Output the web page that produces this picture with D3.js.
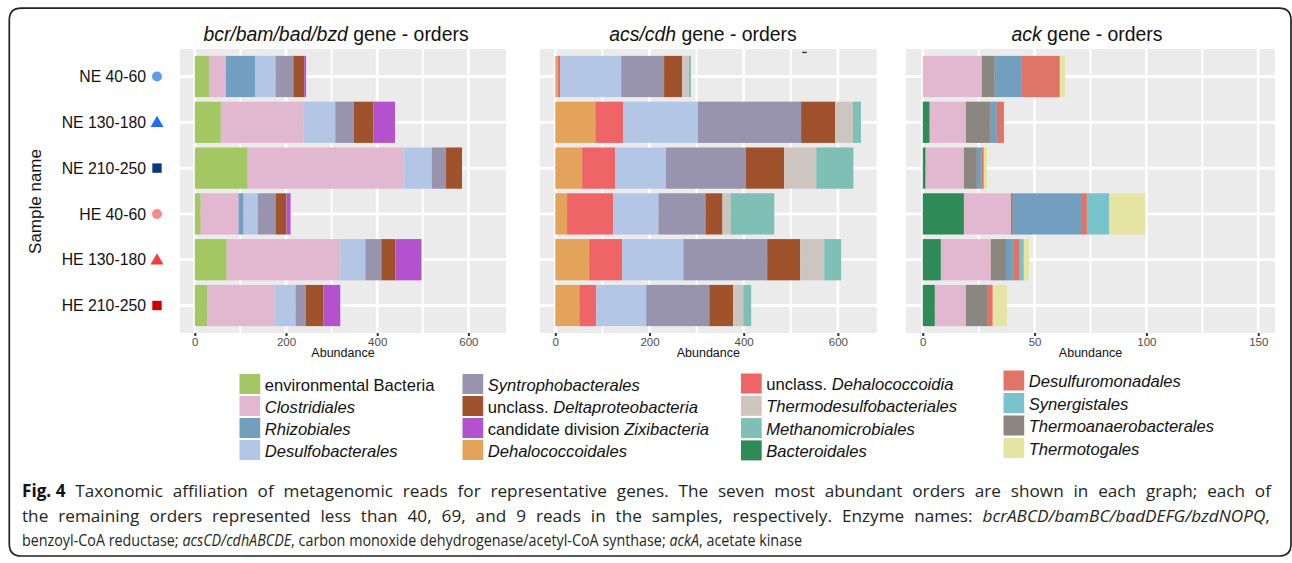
<!DOCTYPE html>
<html><head><meta charset="utf-8">
<script src="https://cdn.jsdelivr.net/npm/d3@7"></script>
<style>body{margin:0;background:#fff} svg{display:block}</style>
</head><body>
<svg id="chart" width="1292" height="563"></svg>
<script>
// ---------------- data ----------------
const samples = ["NE 40-60","NE 130-180","NE 210-250","HE 40-60","HE 130-180","HE 210-250"];
const sampleShapes = ["circle","triangle","square","circle","triangle","square"];

const bcrTaxa = ["environmental Bacteria","Clostridiales","Rhizobiales","Desulfobacterales","Syntrophobacterales","unclass. Deltaproteobacteria","candidate division Zixibacteria"];
const bcrValues = [
  [31, 37, 65, 44, 39, 24, 4],
  [57, 182, 0, 69, 41, 43, 47],
  [116, 342, 0, 62, 31, 35, 0],
  [13, 83, 11, 31, 39, 24, 9],
  [70, 249, 0, 55, 35, 31, 57],
  [28, 147, 0, 46, 22, 39, 37]
];

const acsTaxa = ["Dehalococcoidales","unclass. Dehalococcoidia","Desulfobacterales","Syntrophobacterales","unclass. Deltaproteobacteria","Thermodesulfobacteriales","Methanomicrobiales"];
const acsValues = [
  [6, 4, 130, 91, 38, 15, 4],
  [85, 59, 159, 219, 72, 38, 17],
  [57, 70, 108, 170, 81, 68, 79],
  [25, 98, 96, 100, 36, 17, 93],
  [72, 70, 130, 178, 70, 51, 36],
  [51, 36, 106, 134, 51, 21, 17]
];

const ackTaxa = ["Bacteroidales","Clostridiales","Thermoanaerobacterales","Rhizobiales","Desulfuromonadales","Synergistales","Thermotogales"];
const ackValues = [
  [0, 26.4, 5.8, 12.1, 17, 0, 2.3],
  [3.1, 16.2, 11.1, 2.7, 3.2, 0, 0],
  [1.3, 17.1, 5.8, 2.2, 0.9, 0, 1.4],
  [18.4, 21, 0.9, 30.9, 2.2, 9.9, 16.1],
  [8.1, 22.3, 6.8, 3.1, 3.1, 1.8, 2.3],
  [5.4, 13.9, 9.8, 0, 2.2, 0, 6.3]
];

const bcrTicks = [0, 200, 400, 600];
const acsTicks = [0, 200, 400, 600];
const ackTicks = [0, 50, 100, 150];
const bcrLimit = 650, acsLimit = 650, ackLimit = 150;

// legend: [plain part, italic part]
const legendColumns = [
  [["environmental Bacteria",""],["","Clostridiales"],["","Rhizobiales"],["","Desulfobacterales"]],
  [["","Syntrophobacterales"],["unclass. ","Deltaproteobacteria"],["candidate division ","Zixibacteria"],["","Dehalococcoidales"]],
  [["unclass. ","Dehalococcoidia"],["","Thermodesulfobacteriales"],["","Methanomicrobiales"],["","Bacteroidales"]],
  [["","Desulfuromonadales"],["","Synergistales"],["","Thermoanaerobacterales"],["","Thermotogales"]]
];

const captionLines = [
  [["Fig.\u00a04","b"],[" Taxonomic affiliation of metagenomic reads for representative genes. The seven most abundant orders are shown in each graph; each of",""]],
  [["the remaining orders represented less than 40, 69, and 9 reads in the samples, respectively. Enzyme names: ",""],["bcrABCD/bamBC/badDEFG/bzdNOPQ","i"],[",",""]],
  [["benzoyl-CoA reductase; ",""],["acsCD/cdhABCDE","i"],[", carbon monoxide dehydrogenase/acetyl-CoA synthase; ",""],["ackA","i"],[", acetate kinase",""]]
];

// ---------------- styles ----------------
const colors = {
  "environmental Bacteria":"#a3c763",
  "Clostridiales":"#e2b8d0",
  "Rhizobiales":"#729fbf",
  "Desulfobacterales":"#b3c6e5",
  "Syntrophobacterales":"#9894ae",
  "unclass. Deltaproteobacteria":"#a0522d",
  "candidate division Zixibacteria":"#b452cd",
  "Dehalococcoidales":"#e4a35a",
  "unclass. Dehalococcoidia":"#ef6467",
  "Thermodesulfobacteriales":"#cdc6c0",
  "Methanomicrobiales":"#7fbfb5",
  "Bacteroidales":"#2e8b57",
  "Desulfuromonadales":"#e17468",
  "Synergistales":"#79c4cc",
  "Thermoanaerobacterales":"#8b8680",
  "Thermotogales":"#e6e4a1"
};
const sampleColors = ["#5d9cf5","#1f6fef","#0b3680","#f78a8a","#f23b3b","#d10000"];
const FONT = "'Liberation Sans', Arial, Helvetica, sans-serif";
const CAPFONT = "'Open Sans', 'Noto Sans', sans-serif";

const svg = d3.select("#chart");

// border box
const bx0 = 9.3, by0 = 8.2, bx1 = 1291, by1 = 556, r = 12;
svg.append("path")
  .attr("d", `M${bx0},${by1-r} L${bx0},${by0+r} Q${bx0},${by0} ${bx0+r},${by0} L${bx1-r},${by0} Q${bx1},${by0} ${bx1},${by0+r} L${bx1},${by1-r} Q${bx1},${by1} ${bx1-r},${by1} L${bx0+r},${by1} Q${bx0},${by1} ${bx0},${by1-r} Z`)
  .attr("fill","none").attr("stroke","#222").attr("stroke-width",1.7);

const panelTop = 49, panelBottom = 333;
const y = d3.scaleBand().domain(samples).range([panelTop, panelBottom]).paddingInner(0.1).paddingOuter(0.15);

const panels = [
  {title:[["bcr/bam/bad/bzd",true],[" gene - orders",false]], titleX:336, taxa:bcrTaxa, values:bcrValues, ticks:bcrTicks, limit:bcrLimit, range:[180,506]},
  {title:[["acs/cdh",true],[" gene - orders",false]], titleX:703, taxa:acsTaxa, values:acsValues, ticks:acsTicks, limit:acsLimit, range:[540,876.7]},
  {title:[["ack",true],[" gene - orders",false]], titleX:1087, taxa:ackTaxa, values:ackValues, ticks:ackTicks, limit:ackLimit, range:[906,1275]}
];

panels.forEach((p, pi) => {
  const x = d3.scaleLinear().domain([-0.05*p.limit, 1.05*p.limit]).range(p.range);
  const g = svg.append("g");
  g.append("rect").attr("x",p.range[0]).attr("y",panelTop)
    .attr("width",p.range[1]-p.range[0]).attr("height",panelBottom-panelTop).attr("fill","#ebebeb");
  const minor = d3.pairs(p.ticks).map(([a,b]) => (a+b)/2);
  g.selectAll(".minor").data(minor).join("line")
    .attr("x1",d=>x(d)).attr("x2",d=>x(d)).attr("y1",panelTop).attr("y2",panelBottom)
    .attr("stroke","#fff").attr("stroke-width",1.9);
  g.selectAll(".major").data(p.ticks).join("line")
    .attr("x1",d=>x(d)).attr("x2",d=>x(d)).attr("y1",panelTop).attr("y2",panelBottom)
    .attr("stroke","#fff").attr("stroke-width",2.8);
  g.selectAll(".hgrid").data(samples).join("line")
    .attr("x1",p.range[0]).attr("x2",p.range[1])
    .attr("y1",d=>y(d)+y.bandwidth()/2).attr("y2",d=>y(d)+y.bandwidth()/2)
    .attr("stroke","#fff").attr("stroke-width",2.8);

  const rows = samples.map((s, i) => {
    const o = {sample:s};
    p.taxa.forEach((t, j) => o[t] = p.values[i][j]);
    return o;
  });
  const stacked = d3.stack().keys(p.taxa)(rows);
  g.selectAll(".layer").data(stacked).join("g")
    .attr("fill", d => colors[d.key])
    .selectAll("rect").data(d => d).join("rect")
    .attr("x", d => x(d[0])).attr("width", d => Math.max(0, x(d[1]) - x(d[0])))
    .attr("y", d => y(d.data.sample)).attr("height", y.bandwidth());

  // x axis
  const ax = g.append("g").attr("transform",`translate(0,${panelBottom})`)
    .call(d3.axisBottom(x).tickValues(p.ticks).tickSize(3).tickPadding(1.5));
  ax.select(".domain").remove();
  ax.selectAll(".tick line").attr("stroke","#333").attr("stroke-width",2);
  ax.selectAll(".tick text").attr("fill","#4d4d4d").style("font-family",FONT).style("font-size","11.5px");

  g.append("text").attr("x",(p.range[0]+p.range[1])/2).attr("y",356.5)
    .attr("text-anchor","middle").style("font-family",FONT).style("font-size","12.5px").attr("fill","#111")
    .text("Abundance");

  // title
  const tt = g.append("text").attr("x",p.titleX).attr("y",41).attr("text-anchor","middle")
    .style("font-family",FONT).style("font-size","19.4px").attr("fill","#111");
  p.title.forEach(([t, it]) => tt.append("tspan").style("font-style", it ? "italic" : "normal").text(t));

  if (pi === 0) {
    const labs = g.append("g");
    samples.forEach((s, i) => {
      const cy = y(s) + y.bandwidth()/2;
      labs.append("text").attr("x",146).attr("y",cy).attr("dy","0.36em")
        .attr("text-anchor","end").style("font-family",FONT).style("font-size","15.8px").attr("fill","#111").text(s);
      const sym = sampleShapes[i] === "circle" ? d3.symbolCircle : sampleShapes[i] === "triangle" ? d3.symbolTriangle : d3.symbolSquare;
      const size = sampleShapes[i] === "circle" ? 78 : sampleShapes[i] === "triangle" ? 72 : 88;
      labs.append("path").attr("d", d3.symbol().type(sym).size(size)())
        .attr("transform",`translate(157,${cy + (sampleShapes[i]==="triangle"?1:0)})`).attr("fill",sampleColors[i]);
    });
    svg.append("text").attr("transform",`translate(41,${201.5}) rotate(-90)`)
      .attr("text-anchor","middle").style("font-family",FONT).style("font-size","17px").attr("fill","#111")
      .text("Sample name");
  }
});

// stray dash in the acs/cdh panel
svg.append("rect").attr("x",802.3).attr("y",51.8).attr("width",4.4).attr("height",1.3).attr("fill","#222");

// legend
const legX = [239.5, 462.5, 741, 1003.5];
const legTop = [374, 374, 373.5, 370.5];
const legStep = [22, 22, 22.3, 22.5];
legendColumns.forEach((col, ci) => {
  col.forEach(([plain, ital], ri) => {
    const name = plain + ital;
    const top = legTop[ci] + ri*legStep[ci];
    svg.append("rect").attr("x",legX[ci]).attr("y",top).attr("width",20.7).attr("height",20)
      .attr("fill",colors[name]);
    const t = svg.append("text").attr("x",legX[ci]+25.2).attr("y",top+16.5)
      .style("font-family",FONT).style("font-size","16.6px").attr("fill","#111");
    if (plain) t.append("tspan").text(plain);
    if (ital) t.append("tspan").style("font-style","italic").text(ital);
  });
});

// caption: condensed glyphs, lines 1-2 justified
const capBase = [497, 521.5, 546];
const capLeft = 22;
const capRight = [1271, 1270, 802];
function tokenize(line) {
  const words = [[]];
  line.forEach(([s, st]) => {
    s.split(" ").forEach((piece, k) => {
      if (k > 0) words.push([]);
      if (piece) words[words.length-1].push([piece, st]);
    });
  });
  return words.filter(w => w.length);
}
function styleSpan(ts, st) {
  if (st === "b") ts.style("font-weight","bold").attr("fill","#111");
  if (st === "i") ts.style("font-style","italic");
}
const sp1 = svg.append("text").style("font-family",CAPFONT).style("font-size","17px").text("a a");
const sp2 = svg.append("text").style("font-family",CAPFONT).style("font-size","17px").text("aa");
const spaceW = sp1.node().getComputedTextLength() - sp2.node().getComputedTextLength();
sp1.remove(); sp2.remove();

const capGroups = captionLines.map((line, li) => {
  const words = tokenize(line);
  const g = svg.append("g");
  const nodes = words.map(w => {
    const t = g.append("text").attr("x",0).attr("y",0)
      .style("font-family",CAPFONT).style("font-size","17px").attr("fill","#231f20");
    w.forEach(([s, st]) => styleSpan(t.append("tspan").text(s), st));
    return t;
  });
  const widths = nodes.map(n => n.node().getComputedTextLength());
  return {g, nodes, widths, total: d3.sum(widths), n: words.length};
});
const last = capGroups[2];
const sx3 = (capRight[2] - capLeft) / (last.total + spaceW * (last.n - 1));
capGroups.forEach((c, li) => {
  let sx, gap;
  if (li === 2) { sx = sx3; gap = spaceW; }
  else {
    sx = sx3 * 1.2;
    gap = ((capRight[li] - capLeft) / sx - c.total) / (c.n - 1);
  }
  let cx = 0;
  c.nodes.forEach((n, k) => { n.attr("x", cx); cx += c.widths[k] + gap; });
  c.g.attr("transform",`translate(${capLeft},${capBase[li]}) scale(${sx},1)`);
});
</script>
</body></html>
